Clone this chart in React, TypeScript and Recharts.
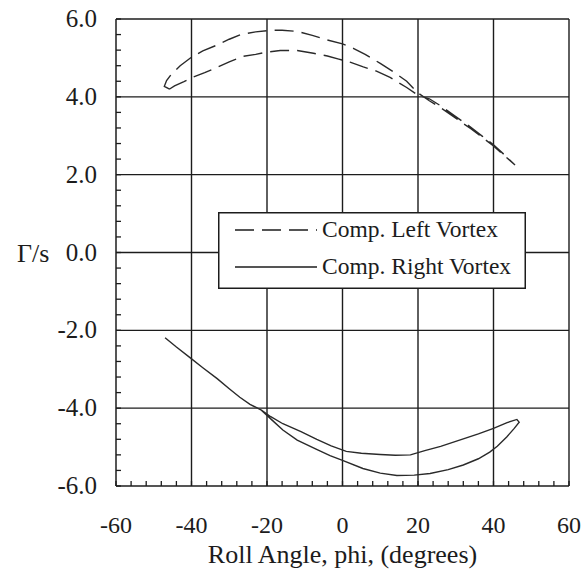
import React from 'react';
import { ComposedChart, Line, XAxis, YAxis, ReferenceLine, Legend } from 'recharts';

// ---- data ----
const leftVortexPhi = [
  -45.8, -47.2, -46.6, -45.5, -43, -40, -37, -33, -30, -27, -23, -19, -16, -12, -8, -4, 0, 3, 6, 10, 13.5, 17, 20,
  23, 26, 30, 34, 37, 40, 43, 45.7,
  43, 40, 37, 34, 30, 26, 23, 20, 17, 12.6, 9, 5.5, 2, -1, -4, -7.7, -12, -16.5, -20, -23, -26.4, -30, -33, -36.5,
  -39.5, -42, -44.5, -45.8,
];
const leftVortexGamma = [
  4.2, 4.27, 4.42, 4.56, 4.8, 5.02, 5.18, 5.34, 5.48, 5.6, 5.67, 5.71, 5.71, 5.68, 5.58, 5.46, 5.36, 5.24, 5.09, 4.86,
  4.64, 4.4, 4.1, 3.9, 3.72, 3.45, 3.18, 2.96, 2.74, 2.48, 2.25,
  2.5, 2.77, 2.99, 3.22, 3.49, 3.77, 3.95, 4.04, 4.24, 4.5, 4.66, 4.77, 4.89, 4.97, 5.05, 5.12, 5.19, 5.19, 5.15,
  5.09, 5.04, 4.9, 4.77, 4.62, 4.51, 4.39, 4.28, 4.2,
];
const rightVortexPhi = [
  -47, -44, -40.4, -37, -33.2, -30, -27.2, -24.5, -21.5, -18.5, -15.8, -12, -7, -3.3, 0, 5.4, 10, 14.4, 19, 23.2, 28,
  32, 36, 39, 41, 43.5, 45.5, 46.8, 46.2, 43.6, 40, 36, 31, 26, 21.8, 18, 14, 10, 5, 1, -3, -6.8, -11, -15.8, -19,
  -21.5,
];
const rightVortexGamma = [
  -2.19, -2.43, -2.7, -2.96, -3.24, -3.5, -3.72, -3.9, -4.05, -4.32, -4.56, -4.82, -5.05, -5.22, -5.34, -5.55, -5.67,
  -5.73, -5.72, -5.68, -5.58, -5.46, -5.3, -5.13, -4.98, -4.74, -4.52, -4.36, -4.29, -4.37, -4.52, -4.66, -4.82,
  -4.98, -5.09, -5.2, -5.21, -5.19, -5.16, -5.11, -4.97, -4.8, -4.6, -4.4, -4.22, -4.05,
];

const xMinorTicks = [
  -60, -56, -52, -48, -44, -40, -36, -32, -28, -24, -20, -16, -12, -8, -4, 0, 4, 8, 12, 16, 20, 24, 28, 32, 36, 40,
  44, 48, 52, 56, 60,
];
const yMinorTicks = [
  -6, -5.6, -5.2, -4.8, -4.4, -4, -3.6, -3.2, -2.8, -2.4, -2, -1.6, -1.2, -0.8, -0.4, 0, 0.4, 0.8, 1.2, 1.6, 2, 2.4,
  2.8, 3.2, 3.6, 4, 4.4, 4.8, 5.2, 5.6, 6,
];
const xGridValues = [-40, -20, 0, 20, 40, 60];
const yGridValues = [-4, -2, 0, 2, 4, 6];
const xLabelStep = 20;
const yLabelStep = 2;

const seriesNames = ['Comp. Left Vortex', 'Comp. Right Vortex'];
const xTitle = 'Roll Angle, phi, (degrees)';
const yTitle = 'Γ/s';

const leftData = leftVortexPhi.map((phi, i) => ({ phi, gamma: leftVortexGamma[i] }));
const rightData = rightVortexPhi.map((phi, i) => ({ phi, gamma: rightVortexGamma[i] }));

const FONT = '"Liberation Serif", "Times New Roman", serif';
const INK = '#1c1c1c';
const DASH = '19 8';

const isMultiple = (v: number, step: number) => Math.abs(v / step - Math.round(v / step)) < 1e-6;

const XTick = (props: any) => {
  const { x, y, payload } = props;
  const v = payload.value;
  if (!isMultiple(v, xLabelStep)) return <g />;
  return (
    <text x={x} y={y} dy={52} textAnchor="middle" fontFamily={FONT} fontSize={24} fill={INK}>
      {String(v)}
    </text>
  );
};

const YTick = (props: any) => {
  const { x, y, payload } = props;
  const v = payload.value;
  if (!isMultiple(v, yLabelStep)) return <g />;
  return (
    <text x={x} y={y} dx={-24} dy={8} textAnchor="end" fontFamily={FONT} fontSize={25} fill={INK}>
      {v.toFixed(1)}
    </text>
  );
};

const renderLegend = () => (
  <svg width={308} height={77} style={{ display: 'block' }}>
    <rect x={0.75} y={0.75} width={306.5} height={75.5} fill="#fff" stroke={INK} strokeWidth={1.5} />
    <line x1={17} y1={18} x2={99} y2={18} stroke={INK} strokeWidth={1.4} strokeDasharray={DASH} />
    <text x={104} y={25} fontFamily={FONT} fontSize={23.5} fill={INK}>
      {seriesNames[0]}
    </text>
    <line x1={17} y1={55} x2={99} y2={55} stroke={INK} strokeWidth={1.4} />
    <text x={104} y={62} fontFamily={FONT} fontSize={23.5} fill={INK}>
      {seriesNames[1]}
    </text>
  </svg>
);

export default function App() {
  return (
    <div style={{ position: 'absolute', left: 0, top: 0, background: '#fff' }}>
      <ComposedChart width={585} height={572} margin={{ top: 19, right: 16, bottom: 0, left: 0 }}>
        <XAxis
          type="number"
          dataKey="phi"
          domain={[-60, 60]}
          ticks={xMinorTicks}
          interval={0}
          allowDataOverflow
          height={86}
          tickSize={-5}
          tickMargin={0}
          tick={<XTick />}
          tickLine={{ stroke: INK, strokeWidth: 1.3 }}
          axisLine={{ stroke: INK, strokeWidth: 1.5 }}
          label={{ value: xTitle, position: 'insideBottom', offset: 9, fontFamily: FONT, fontSize: 26, fill: INK }}
        />
        <YAxis
          type="number"
          dataKey="gamma"
          domain={[-6, 6]}
          ticks={yMinorTicks}
          interval={0}
          allowDataOverflow
          width={116}
          tickSize={-5}
          tickMargin={0}
          tick={<YTick />}
          tickLine={{ stroke: INK, strokeWidth: 1.3 }}
          axisLine={{ stroke: INK, strokeWidth: 1.5 }}
          label={{ value: yTitle, position: 'insideLeft', offset: 17, fontFamily: FONT, fontSize: 26, fill: INK }}
        />
        {xGridValues.map((v) => (
          <ReferenceLine key={'gx' + v} x={v} stroke={INK} strokeWidth={1.4} />
        ))}
        {yGridValues.map((v) => (
          <ReferenceLine key={'gy' + v} y={v} stroke={INK} strokeWidth={1.4} />
        ))}
        <Legend
          layout="horizontal"
          verticalAlign="middle"
          align="center"
          content={renderLegend}
          wrapperStyle={{ left: 218, top: 212, width: 308, height: 77 }}
        />
        <Line
          data={leftData}
          dataKey="gamma"
          name={seriesNames[0]}
          type="linear"
          stroke="#2a2a2a"
          strokeWidth={1.4}
          strokeDasharray={DASH}
          dot={false}
          activeDot={false}
          isAnimationActive={false}
        />
        <Line
          data={rightData}
          dataKey="gamma"
          name={seriesNames[1]}
          type="linear"
          stroke="#2a2a2a"
          strokeWidth={1.4}
          dot={false}
          activeDot={false}
          isAnimationActive={false}
        />
      </ComposedChart>
    </div>
  );
}
